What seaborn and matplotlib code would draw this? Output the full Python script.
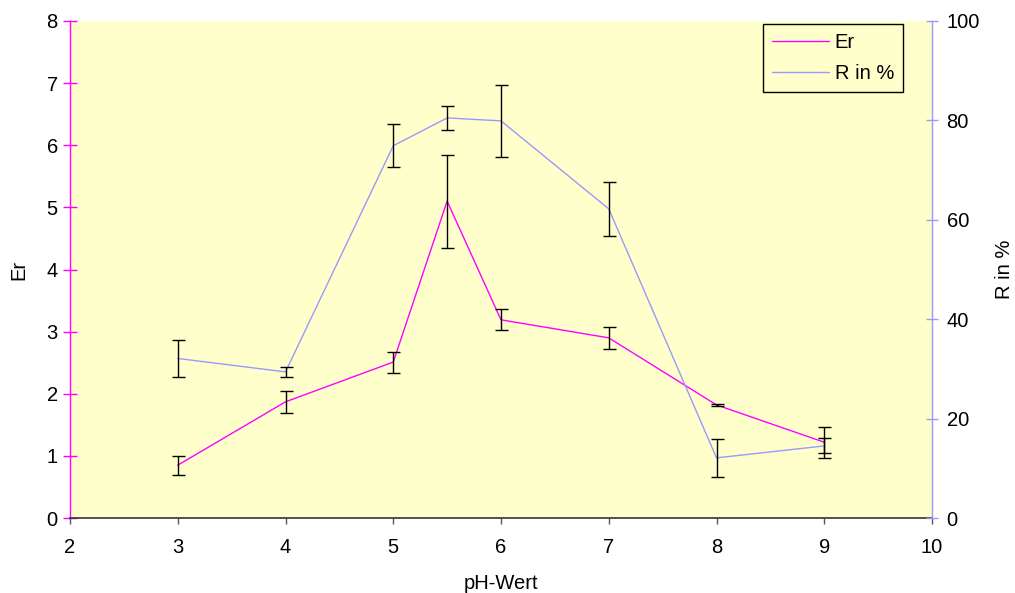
import matplotlib
matplotlib.use("Agg")
import matplotlib.pyplot as plt
from matplotlib.lines import Line2D
import seaborn as sns
import pandas as pd

# pH values and measurements
ph = [3, 4, 5, 5.5, 6, 7, 8, 9]
er = [0.85, 1.87, 2.51, 5.10, 3.19, 2.90, 1.82, 1.22]
er_err = [0.15, 0.18, 0.17, 0.75, 0.17, 0.18, 0.01, 0.25]
r_pct = [32.1, 29.4, 74.9, 80.5, 79.9, 62.2, 12.1, 14.5]
r_err = [3.8, 0.95, 4.3, 2.4, 7.3, 5.4, 3.8, 1.5]

x_ticks = [2, 3, 4, 5, 6, 7, 8, 9, 10]
er_ticks = [0, 1, 2, 3, 4, 5, 6, 7, 8]
r_ticks = [0, 20, 40, 60, 80, 100]

sns.set_style("white")
plt.rcParams["font.family"] = ["Liberation Sans", "DejaVu Sans"]
plt.rcParams["font.size"] = 14.5
plt.rcParams["text.color"] = "black"
plt.rcParams["axes.labelcolor"] = "black"
plt.rcParams["xtick.labelcolor"] = "black"
plt.rcParams["ytick.labelcolor"] = "black"

magenta = "#FF00FF"
lavender = "#9999FF"
bg = "#FFFFCC"

df = pd.DataFrame({"pH": ph, "Er": er, "R": r_pct})

fig = plt.figure(figsize=(10.15, 5.93), dpi=100)
ax = fig.add_axes([70 / 1015, 1 - 518 / 593, (932 - 70) / 1015, (518 - 21) / 593])
ax.set_facecolor(bg)
ax2 = ax.twinx()
ax2.patch.set_visible(False)

sns.lineplot(data=df, x="pH", y="Er", ax=ax, color=magenta, lw=1, sort=False,
             zorder=2)
ax.errorbar(ph, er, yerr=er_err, fmt="none", ecolor="black", elinewidth=1,
            capsize=6.5 * 72 / 100, capthick=1, zorder=3)

sns.lineplot(data=df, x="pH", y="R", ax=ax2, color=lavender, lw=1, sort=False,
             zorder=2)
ax2.errorbar(ph, r_pct, yerr=r_err, fmt="none", ecolor="black", elinewidth=1,
             capsize=6.5 * 72 / 100, capthick=1, zorder=3)

ax.set_xlim(2, 10)
ax.set_ylim(0, 8)
ax2.set_ylim(0, 100)
ax.set_xticks(x_ticks)
ax.set_yticks(er_ticks)
ax2.set_yticks(r_ticks)

ax.set_xlabel("pH-Wert", labelpad=12)
ax.set_ylabel("Er", labelpad=13)
ax2.set_ylabel("R in %", labelpad=11)

for a in (ax, ax2):
    a.spines["top"].set_visible(False)
    a.grid(False)
ax.spines["right"].set_visible(False)
ax2.spines["left"].set_visible(False)
ax2.spines["bottom"].set_visible(False)
ax.spines["left"].set_color(magenta)
ax.spines["left"].set_linewidth(1)
ax.spines["bottom"].set_color("#333333")
ax.spines["bottom"].set_linewidth(1.2)
ax2.spines["right"].set_color(lavender)
ax2.spines["right"].set_linewidth(1)

ax.tick_params(axis="y", which="major", direction="inout", length=9.5, width=1,
               color=magenta, left=True, pad=4)
ax.tick_params(axis="x", which="major", direction="out", length=4.5, width=1,
               color="#555555", bottom=True, pad=10)
ax2.tick_params(axis="y", which="major", direction="inout", length=9, width=1,
                color=lavender, right=True, pad=6)

handles = [Line2D([], [], color=magenta, lw=1), Line2D([], [], color=lavender, lw=1)]
leg = ax2.legend(handles, ["Er", "R in %"], loc="upper right",
                 bbox_to_anchor=(903 / 1015, 1 - 24 / 593),
                 bbox_transform=fig.transFigure, frameon=True, fancybox=False,
                 edgecolor="black", facecolor=bg, framealpha=1,
                 handlelength=2.8, borderpad=0.45, labelspacing=0.6,
                 handletextpad=0.3, borderaxespad=0)
leg.get_frame().set_linewidth(1)

fig.savefig("out.png", dpi=100)
